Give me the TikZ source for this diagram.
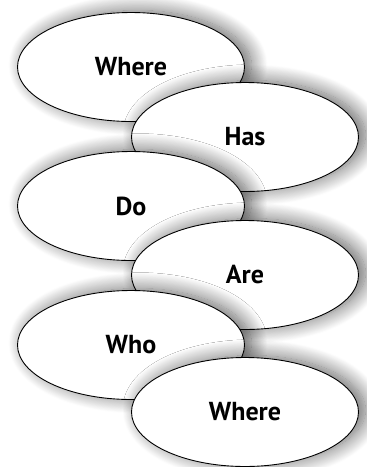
\documentclass[tikz,border=0pt]{standalone}
\usepackage{fontspec}
\setmainfont{PT Sans}
\usepackage{tikz}
\usetikzlibrary{shapes.geometric,shadows.blur}

\tikzset{
    word/.style={ellipse, draw, line width=0.9pt, fill=white,
        minimum width=227pt, minimum height=109pt, inner sep=0pt,
        font=\fontsize{26}{30}\selectfont\bfseries,
        blur shadow={shadow xshift=7pt, shadow yshift=2pt,
            shadow blur radius=16pt, shadow blur steps=20,
            shadow opacity=60}}
}

\begin{document}
\begin{tikzpicture}[x=1pt, y=-1pt]
    \useasboundingbox (0, 0) rectangle (367, 467);

    % First pair
    \node[word] (where1) at (131, 67) {Where};
    \node[word] (has) at (245, 137) {Has};

    % Second pair
    \node[word] (do) at (131, 206) {Do};
    \node[word] (are) at (245, 275) {Are};

    % Third pair
    \node[word] (who) at (131, 345) {Who};
    \node[word] (where2) at (245, 412) {Where};
\end{tikzpicture}
\end{document}
